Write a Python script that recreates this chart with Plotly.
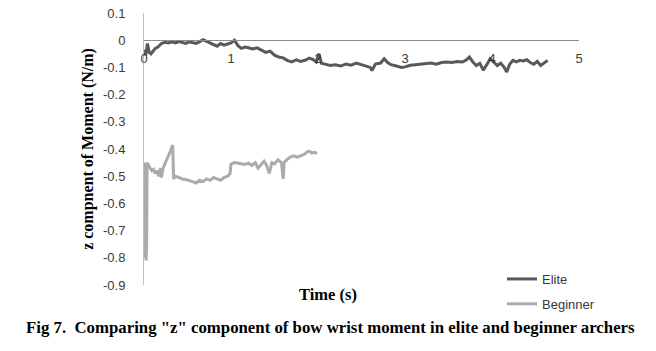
import plotly.graph_objects as go

elite_t = [
    0.00, 0.02, 0.04, 0.06, 0.08, 0.10, 0.13, 0.16, 0.20, 0.24,
    0.28, 0.32, 0.36, 0.40, 0.44, 0.48, 0.52, 0.56, 0.60, 0.64,
    0.68, 0.72, 0.76, 0.80, 0.84, 0.88, 0.92, 0.96, 1.00, 1.04,
    1.08, 1.12, 1.16, 1.20, 1.25, 1.30, 1.35, 1.40, 1.45, 1.50,
    1.55, 1.60, 1.65, 1.70, 1.75, 1.80, 1.85, 1.90, 1.94, 1.98,
    2.01, 2.04, 2.08, 2.14, 2.20, 2.26, 2.32, 2.38, 2.44, 2.50,
    2.56, 2.60, 2.62, 2.66, 2.72, 2.76, 2.80, 2.84, 2.90, 2.96,
    3.00, 3.06, 3.12, 3.18, 3.24, 3.30, 3.36, 3.42, 3.48, 3.54,
    3.60, 3.66, 3.70, 3.74, 3.78, 3.82, 3.86, 3.90, 3.94, 3.98,
    4.02, 4.06, 4.10, 4.14, 4.17, 4.20, 4.24, 4.28, 4.32, 4.36,
    4.40, 4.44, 4.48, 4.52, 4.56, 4.60, 4.64,
]
elite_z = [
    -0.035, -0.055, -0.012, -0.045, -0.050, -0.040, -0.030, -0.025, -0.012, -0.008,
    -0.010, -0.006, -0.010, -0.005, -0.008, -0.012, -0.006, -0.010, -0.012, -0.005,
    0.002, -0.004, -0.010, -0.018, -0.022, -0.012, -0.018, -0.014, -0.010, 0.000,
    -0.020, -0.030, -0.025, -0.028, -0.032, -0.028, -0.036, -0.045, -0.040, -0.055,
    -0.062, -0.065, -0.075, -0.080, -0.072, -0.078, -0.074, -0.066, -0.070, -0.080,
    -0.050, -0.085, -0.088, -0.093, -0.090, -0.095, -0.088, -0.092, -0.084, -0.090,
    -0.094, -0.100, -0.112, -0.088, -0.084, -0.068, -0.082, -0.090, -0.095, -0.100,
    -0.098, -0.092, -0.090, -0.088, -0.086, -0.084, -0.088, -0.082, -0.080, -0.082,
    -0.078, -0.080, -0.074, -0.062, -0.080, -0.093, -0.085, -0.110, -0.090, -0.068,
    -0.080, -0.093, -0.085, -0.100, -0.117, -0.090, -0.074, -0.080, -0.074, -0.076,
    -0.072, -0.082, -0.088, -0.078, -0.093, -0.085, -0.074,
]

beginner_t = [
    0.000, 0.008, 0.012, 0.018, 0.024, 0.030, 0.036, 0.050, 0.070, 0.090,
    0.110, 0.130, 0.150, 0.170, 0.190, 0.200, 0.220, 0.240, 0.260, 0.280,
    0.300, 0.330, 0.340, 0.360, 0.400, 0.440, 0.480, 0.520, 0.560, 0.600,
    0.640, 0.680, 0.720, 0.760, 0.800, 0.840, 0.880, 0.920, 0.960, 0.990,
    1.000, 1.040, 1.080, 1.120, 1.160, 1.200, 1.240, 1.280, 1.310, 1.340,
    1.380, 1.410, 1.440, 1.470, 1.500, 1.540, 1.580, 1.600, 1.610, 1.640,
    1.680, 1.720, 1.760, 1.800, 1.840, 1.880, 1.900, 1.930, 1.960, 1.990,
]
beginner_z = [
    -0.450, -0.460, -0.800, -0.780, -0.810, -0.760, -0.450, -0.460, -0.470, -0.480,
    -0.475, -0.490, -0.480, -0.500, -0.470, -0.505, -0.470, -0.455, -0.440, -0.430,
    -0.410, -0.385, -0.510, -0.500, -0.505, -0.510, -0.512, -0.515, -0.520, -0.525,
    -0.515, -0.520, -0.510, -0.515, -0.505, -0.510, -0.515, -0.505, -0.500, -0.490,
    -0.455, -0.450, -0.452, -0.455, -0.457, -0.452, -0.460, -0.450, -0.470, -0.460,
    -0.445, -0.460, -0.490, -0.450, -0.455, -0.440, -0.450, -0.510, -0.450, -0.440,
    -0.430, -0.425, -0.430, -0.425, -0.420, -0.410, -0.408, -0.415, -0.412, -0.416,
]

x_ticks = [0, 1, 2, 3, 4, 5]
y_ticks = [0.1, 0, -0.1, -0.2, -0.3, -0.4, -0.5, -0.6, -0.7, -0.8, -0.9]
y_tick_labels = ["0.1", "0", "-0.1", "-0.2", "-0.3", "-0.4", "-0.5", "-0.6", "-0.7", "-0.8", "-0.9"]

# plot area in pixels
L, R, T, B = 144, 579, 13, 285
W, H = 656, 351
PW, PH = R - L, B - T


def px(x):
    return (x - L) / PW


def py(y):
    return (B - y) / PH


fig = go.Figure()
fig.add_trace(go.Scatter(x=elite_t, y=elite_z, mode="lines", name="Elite",
                         line=dict(color="#595959", width=3), legendgroup="a"))
fig.add_trace(go.Scatter(x=beginner_t, y=beginner_z, mode="lines", name="Beginner",
                         line=dict(color="#ababab", width=3), legendgroup="b"))

tick_font = dict(family="Liberation Sans, Arial, sans-serif", size=13, color="#3a3a3a")
serif = "Liberation Serif, Times New Roman, serif"

fig.update_layout(
    width=W, height=H,
    margin=dict(l=L, r=W - R, t=T, b=H - B),
    paper_bgcolor="white", plot_bgcolor="white",
    showlegend=True,
    legend=dict(x=px(502), xanchor="left", y=py(264), yanchor="top",
                font=dict(family="Liberation Sans, Arial, sans-serif", size=13, color="#3a3a3a"),
                tracegroupgap=5, traceorder="grouped", bgcolor="rgba(0,0,0,0)"),
    xaxis=dict(range=[0, 5], tickvals=x_ticks, showgrid=False, zeroline=False,
               showline=True, linecolor="#8c8c8c", linewidth=1, automargin=False,
               anchor="free", position=0.9, ticks="", tickfont=tick_font,
               ticklabelstandoff=6),
    yaxis=dict(range=[-0.9, 0.1], tickvals=y_ticks, ticktext=y_tick_labels,
               showgrid=False, zeroline=False, showline=True, linecolor="#bfbfbf",
               linewidth=1, ticks="", tickfont=tick_font, ticklabelstandoff=15,
               automargin=False,
               title=dict(text="<b>z compnent of Moment (N/m)</b>", standoff=5,
                          font=dict(family=serif, size=16, color="black"))),
    annotations=[
        dict(text="<b>Time (s)</b>", xref="paper", yref="paper", x=px(328),
             y=py(294), showarrow=False, xanchor="center", yanchor="middle",
             font=dict(family=serif, size=16.5, color="black")),
        dict(text='<b>Fig 7.  Comparing "z" component of bow wrist moment in elite and beginner archers</b>',
             xref="paper", yref="paper", x=px(24), y=py(327),
             showarrow=False, xanchor="left", yanchor="middle",
             font=dict(family=serif, size=16.8, color="black")),
    ],
)

fig.write_html("out.html")
